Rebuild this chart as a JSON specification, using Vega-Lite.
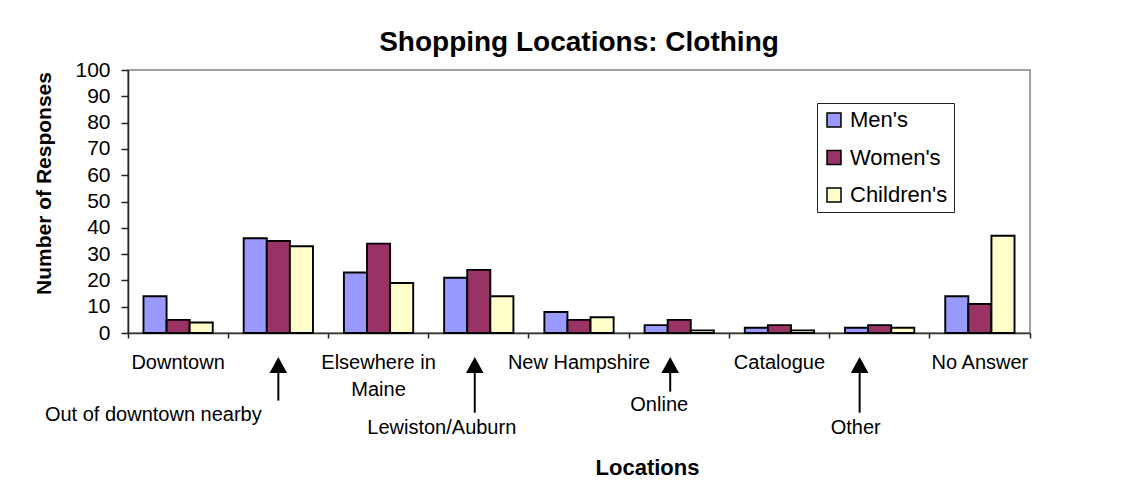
{
  "$schema": "https://vega.github.io/schema/vega-lite/v6.json",
  "width": 902,
  "height": 263,
  "autosize": {"type": "none"},
  "padding": {"left": 128, "top": 70, "right": 117, "bottom": 160},
  "background": "white",
  "title": {
    "text": "Shopping Locations: Clothing",
    "font": "Liberation Sans",
    "fontSize": 28,
    "fontWeight": "bold",
    "color": "black",
    "anchor": "middle",
    "frame": "group",
    "baseline": "alphabetic",
    "offset": -20
  },
  "config": {
    "view": {"stroke": "#808080", "strokeWidth": 1.5},
    "font": "Liberation Sans"
  },
  "resolve": {"axis": {"x": "independent", "y": "independent"}},
  "layer": [
    {
      "data": {
        "values": [
          {"loc": "Downtown", "type": "Men's", "value": 14},
          {"loc": "Downtown", "type": "Women's", "value": 5},
          {"loc": "Downtown", "type": "Children's", "value": 4},
          {"loc": "Out of downtown nearby", "type": "Men's", "value": 36},
          {"loc": "Out of downtown nearby", "type": "Women's", "value": 35},
          {"loc": "Out of downtown nearby", "type": "Children's", "value": 33},
          {"loc": "Elsewhere in Maine", "type": "Men's", "value": 23},
          {"loc": "Elsewhere in Maine", "type": "Women's", "value": 34},
          {"loc": "Elsewhere in Maine", "type": "Children's", "value": 19},
          {"loc": "Lewiston/Auburn", "type": "Men's", "value": 21},
          {"loc": "Lewiston/Auburn", "type": "Women's", "value": 24},
          {"loc": "Lewiston/Auburn", "type": "Children's", "value": 14},
          {"loc": "New Hampshire", "type": "Men's", "value": 8},
          {"loc": "New Hampshire", "type": "Women's", "value": 5},
          {"loc": "New Hampshire", "type": "Children's", "value": 6},
          {"loc": "Online", "type": "Men's", "value": 3},
          {"loc": "Online", "type": "Women's", "value": 5},
          {"loc": "Online", "type": "Children's", "value": 1},
          {"loc": "Catalogue", "type": "Men's", "value": 2},
          {"loc": "Catalogue", "type": "Women's", "value": 3},
          {"loc": "Catalogue", "type": "Children's", "value": 1},
          {"loc": "Other", "type": "Men's", "value": 2},
          {"loc": "Other", "type": "Women's", "value": 3},
          {"loc": "Other", "type": "Children's", "value": 2},
          {"loc": "No Answer", "type": "Men's", "value": 14},
          {"loc": "No Answer", "type": "Women's", "value": 11},
          {"loc": "No Answer", "type": "Children's", "value": 37}
        ]
      },
      "mark": {"type": "bar", "stroke": "black", "strokeWidth": 1.9},
      "encoding": {
        "x": {
          "field": "loc",
          "type": "nominal",
          "scale": {
            "domain": ["Downtown", "Out of downtown nearby", "Elsewhere in Maine", "Lewiston/Auburn", "New Hampshire", "Online", "Catalogue", "Other", "No Answer"],
            "paddingInner": 0,
            "paddingOuter": 0
          },
          "axis": {
            "title": "Locations",
            "labelAngle": 0,
            "bandPosition": 1,
            "tickExtra": true,
            "tickSize": 5,
            "tickColor": "#222222",
            "tickWidth": 1.5,
            "domainColor": "#333333",
            "domainWidth": 1.5,
            "labelFont": "Liberation Sans",
            "labelFontSize": 20,
            "labelColor": "black",
            "labelPadding": {
              "condition": [
                {"test": "datum.value === 'Out of downtown nearby'", "value": 66},
                {"test": "datum.value === 'Lewiston/Auburn'", "value": 79},
                {"test": "datum.value === 'Online'", "value": 56},
                {"test": "datum.value === 'Other'", "value": 79}
              ],
              "value": 14
            },
            "labelOffset": {
              "condition": [
                {"test": "datum.value === 'Out of downtown nearby'", "value": -125},
                {"test": "datum.value === 'Lewiston/Auburn'", "value": -37},
                {"test": "datum.value === 'Online'", "value": -20},
                {"test": "datum.value === 'Other'", "value": -24}
              ],
              "value": 0
            },
            "labelLimit": 400,
            "labelOverlap": false,
            "labelBound": false,
            "labelLineHeight": 27,
            "labelExpr": "datum.value === 'Elsewhere in Maine' ? ['Elsewhere in', 'Maine'] : datum.value",
            "titleFont": "Liberation Sans",
            "titleFontSize": 22,
            "titleFontWeight": "bold",
            "titleColor": "black",
            "titleX": 519,
            "titleY": 134,
            "titleAlign": "center",
            "titleBaseline": "middle"
          }
        },
        "xOffset": {
          "field": "type",
          "type": "nominal",
          "scale": {"domain": ["Men's", "Women's", "Children's"], "paddingInner": 0, "paddingOuter": 0.67}
        },
        "y": {
          "field": "value",
          "type": "quantitative",
          "scale": {"domain": [0, 100], "nice": false, "zero": true},
          "axis": {
            "title": "Number of Responses",
            "values": [0, 10, 20, 30, 40, 50, 60, 70, 80, 90, 100],
            "grid": false,
            "domainColor": "#222222",
            "domainWidth": 1.5,
            "tickColor": "#222222",
            "tickWidth": 1.5,
            "tickSize": 7,
            "labelFont": "Liberation Sans",
            "labelFontSize": 21,
            "labelColor": "black",
            "labelPadding": 11,
            "labelOverlap": false,
            "titleFont": "Liberation Sans",
            "titleFontSize": 21,
            "titleFontWeight": "bold",
            "titleColor": "black",
            "titleX": -84,
            "titleY": 113,
            "titleAngle": -90,
            "titleAlign": "center",
            "titleBaseline": "middle"
          }
        },
        "color": {
          "field": "type",
          "type": "nominal",
          "scale": {"domain": ["Men's", "Women's", "Children's"], "range": ["#9999FF", "#993366", "#FFFFCC"]},
          "legend": {
            "title": null,
            "orient": "none",
            "legendX": 689,
            "legendY": 33,
            "direction": "vertical",
            "symbolType": "square",
            "symbolSize": 196,
            "symbolStrokeColor": "black",
            "symbolStrokeWidth": 1.5,
            "labelFont": "Liberation Sans",
            "labelFontSize": 22,
            "labelColor": "black",
            "labelOffset": 5,
            "labelLimit": 300,
            "rowPadding": 15.5,
            "padding": 6,
            "strokeColor": "#222222",
            "fillColor": "white"
          }
        }
      }
    },
    {
      "data": {"values": [{"loc": "Out of downtown nearby"}]},
      "mark": {"type": "rule", "color": "black", "strokeWidth": 2},
      "encoding": {
        "x": {"field": "loc", "type": "nominal", "bandPosition": 0.5, "axis": null},
        "y": {"datum": -14, "type": "quantitative", "axis": null},
        "y2": {"datum": -25.7}
      }
    },
    {
      "data": {"values": [{"loc": "Lewiston/Auburn"}]},
      "mark": {"type": "rule", "color": "black", "strokeWidth": 2},
      "encoding": {
        "x": {"field": "loc", "type": "nominal", "bandPosition": 0.46, "axis": null},
        "y": {"datum": -14, "type": "quantitative", "axis": null},
        "y2": {"datum": -30.3}
      }
    },
    {
      "data": {"values": [{"loc": "Online"}]},
      "mark": {"type": "rule", "color": "black", "strokeWidth": 2},
      "encoding": {
        "x": {"field": "loc", "type": "nominal", "bandPosition": 0.41, "axis": null},
        "y": {"datum": -14, "type": "quantitative", "axis": null},
        "y2": {"datum": -22.3}
      }
    },
    {
      "data": {"values": [{"loc": "Other"}]},
      "mark": {"type": "rule", "color": "black", "strokeWidth": 2},
      "encoding": {
        "x": {"field": "loc", "type": "nominal", "bandPosition": 0.3, "axis": null},
        "y": {"datum": -14, "type": "quantitative", "axis": null},
        "y2": {"datum": -30.3}
      }
    },
    {
      "data": {"values": [{"loc": "Out of downtown nearby"}]},
      "mark": {"type": "point", "shape": "M0,-1L1.1,1L-1.1,1Z", "filled": true, "color": "black", "opacity": 1, "size": 256},
      "encoding": {
        "x": {"field": "loc", "type": "nominal", "bandPosition": 0.5, "axis": null},
        "y": {"datum": -12.2, "type": "quantitative", "axis": null}
      }
    },
    {
      "data": {"values": [{"loc": "Lewiston/Auburn"}]},
      "mark": {"type": "point", "shape": "M0,-1L1.1,1L-1.1,1Z", "filled": true, "color": "black", "opacity": 1, "size": 256},
      "encoding": {
        "x": {"field": "loc", "type": "nominal", "bandPosition": 0.46, "axis": null},
        "y": {"datum": -12.2, "type": "quantitative", "axis": null}
      }
    },
    {
      "data": {"values": [{"loc": "Online"}]},
      "mark": {"type": "point", "shape": "M0,-1L1.1,1L-1.1,1Z", "filled": true, "color": "black", "opacity": 1, "size": 256},
      "encoding": {
        "x": {"field": "loc", "type": "nominal", "bandPosition": 0.41, "axis": null},
        "y": {"datum": -12.2, "type": "quantitative", "axis": null}
      }
    },
    {
      "data": {"values": [{"loc": "Other"}]},
      "mark": {"type": "point", "shape": "M0,-1L1.1,1L-1.1,1Z", "filled": true, "color": "black", "opacity": 1, "size": 256},
      "encoding": {
        "x": {"field": "loc", "type": "nominal", "bandPosition": 0.3, "axis": null},
        "y": {"datum": -12.2, "type": "quantitative", "axis": null}
      }
    }
  ]
}
